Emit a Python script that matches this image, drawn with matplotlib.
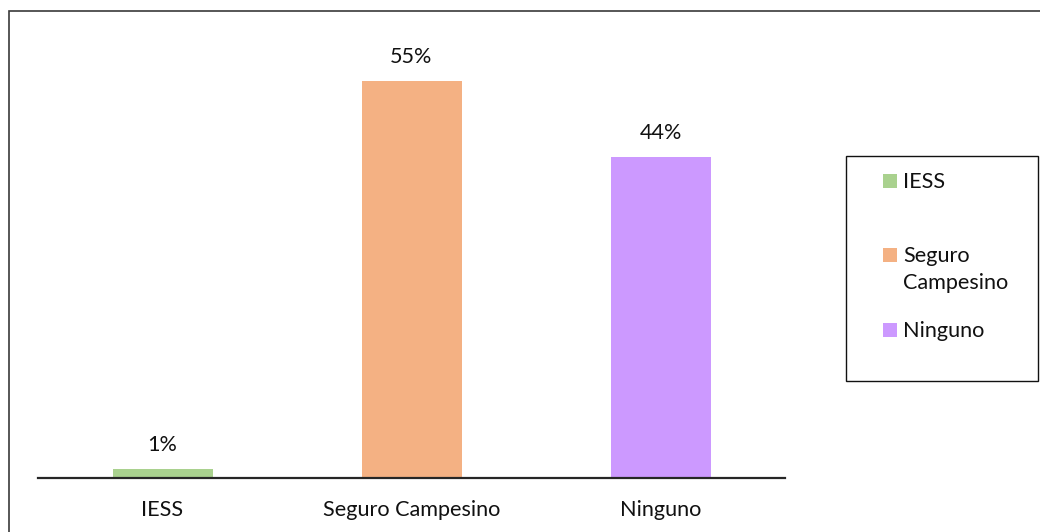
import matplotlib
matplotlib.use("Agg")
import matplotlib.pyplot as plt
from matplotlib.patches import Rectangle

categories = ["IESS", "Seguro Campesino", "Ninguno"]
legend_labels = ["IESS", "Seguro\nCampesino", "Ninguno"]
values = [1.2, 55, 44.5]
value_labels = ["1%", "55%", "44%"]
colors = ["#A9D18E", "#F4B183", "#CC99FF"]

plt.rcParams['font.family'] = ['Lato', 'DejaVu Sans']
FS = 15.6

W, H = 1040, 532
fig = plt.figure(figsize=(W / 100, H / 100), dpi=100)

def fx(px):
    return px / W

def fy(py):
    return 1 - py / H

# axes in pixel layout
ymax = 60
ax_left, ax_right, ax_base = 38, 785, 478
px_per_unit = (478 - 81) / 55
ax_top = ax_base - ymax * px_per_unit
ax = fig.add_axes([fx(ax_left), fy(ax_base), fx(ax_right - ax_left), (ax_base - ax_top) / H])

x = list(range(len(categories)))
ax.bar(x, values, width=100 / 249, color=colors, zorder=2)
ax.set_xlim(-0.5, len(categories) - 0.5)
ax.set_ylim(0, ymax)
for s in ["top", "right", "left"]:
    ax.spines[s].set_visible(False)
ax.spines["bottom"].set_color("#262626")
ax.spines["bottom"].set_linewidth(1.6)
ax.set_yticks([])
ax.set_xticks(x)
ax.set_xticklabels(categories, fontsize=FS, color="#111111")
ax.tick_params(axis="x", length=0, pad=16)

for xi, v, lab in zip(x, values, value_labels):
    ax.annotate(lab, (xi, v), xytext=(0, 10), textcoords="offset points",
                ha="center", va="bottom", fontsize=FS, color="#111111")

# outer chart frame
fig.add_artist(Rectangle((fx(8.5), -0.2), 1.5, fy(11) + 0.2, transform=fig.transFigure,
                         fill=False, edgecolor="#3a3a3a", linewidth=1.2))

# legend box
fig.add_artist(Rectangle((fx(846), fy(381)), fx(1038 - 846), (381 - 156) / H,
                         transform=fig.transFigure, fill=False,
                         edgecolor="#111111", linewidth=1.0))
legend_y = [181, 255, 330]
for lab, col, yy in zip(legend_labels, colors, legend_y):
    fig.add_artist(Rectangle((fx(883), fy(yy + 7)), fx(14), 14 / H,
                             transform=fig.transFigure, facecolor=col, edgecolor="none"))
    fig.text(fx(903), fy(yy - 9), lab, ha="left", va="top", fontsize=FS,
             color="#111111", linespacing=1.45)

fig.savefig("out.png", dpi=100)
